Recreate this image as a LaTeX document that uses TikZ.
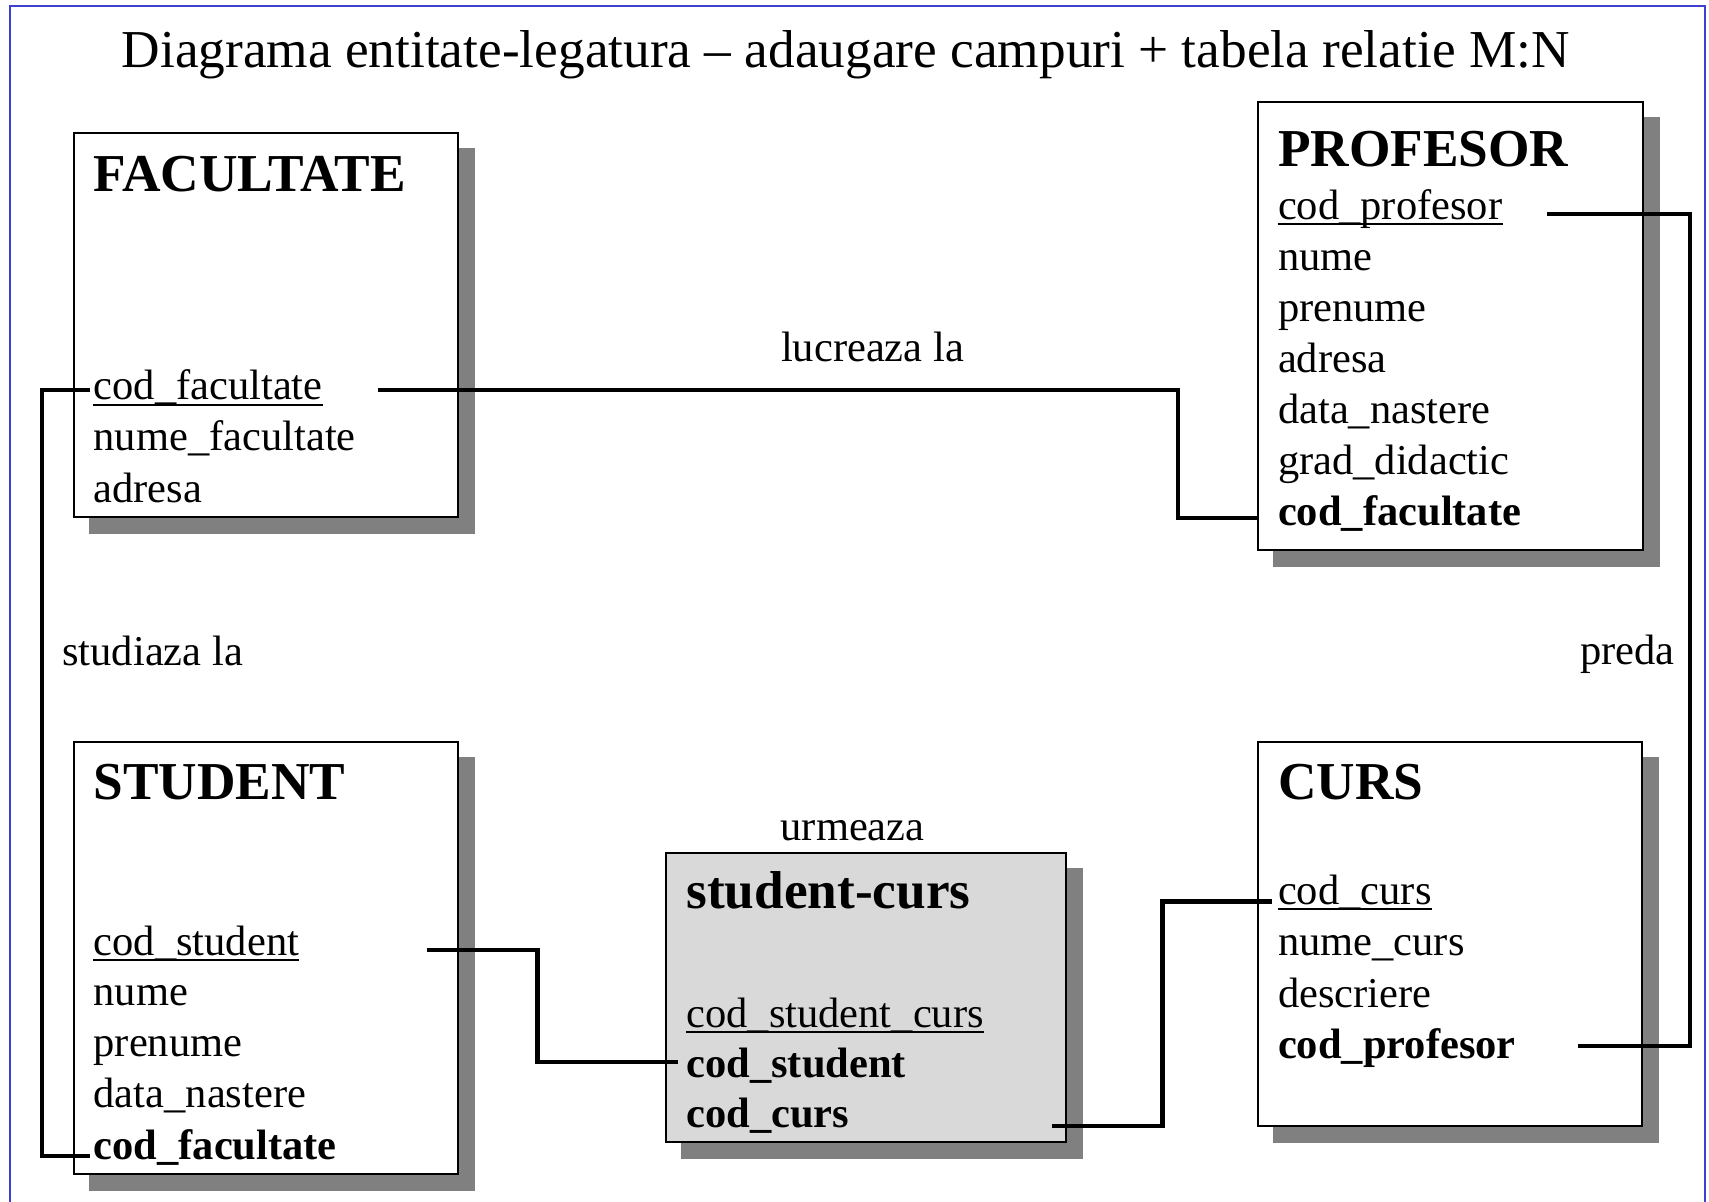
\documentclass[tikz,border=0pt]{standalone}
\usepackage{fontspec}
\setmainfont{Liberation Serif}
\definecolor{frameblue}{RGB}{64,64,208}
\definecolor{shadowgray}{RGB}{128,128,128}
\definecolor{linkfill}{RGB}{217,217,217}
\newcommand{\erbox}[6]{%
  \fill[shadowgray] (#2+15,#3+15) rectangle (#4+17,#5+17);
  \draw[boxline, fill=#6] (#2,#3) rectangle (#4,#5);
  \coordinate (#1) at (#2,#3);}
\begin{document}
\begin{tikzpicture}[x=0.5pt,y=-0.5pt,
  boxline/.style={line width=1pt, draw=black},
  attr/.style={inner sep=0pt, anchor=base west, font=\fontsize{21.25}{25}\selectfont},
  keyattr/.style={inner sep=0pt, anchor=base west, font=\fontsize{21.25}{25}\selectfont\bfseries},
  etitle/.style={inner sep=0pt, anchor=base west, font=\fontsize{26.65}{32}\selectfont\bfseries},
  rlabel/.style={inner sep=0pt, font=\fontsize{21.25}{25}\selectfont},
  uline/.style={line width=1pt},
  conn/.style={line width=2.2pt}]
\useasboundingbox (0,0) rectangle (1709,1202);
\draw[frameblue, line width=1.1pt] (9.6,6) rectangle (1705,1215);
% title
\node[inner sep=0pt, anchor=base, font=\fontsize{26.65}{32}\selectfont] (title) at (845.6,68)
  {Diagrama entitate-legatura – adaugare campuri + tabela relatie M:N};
% boxes
\erbox{facbox}{74}{133.3}{458}{517.3}{white}
\erbox{profbox}{1257.7}{101.7}{1642.5}{550}{white}
\erbox{studbox}{74}{742.2}{457.7}{1174}{white}
\erbox{cursbox}{1257.7}{742.2}{1642.3}{1125.7}{white}
\erbox{scbox}{665.8}{853.3}{1066}{1141.7}{linkfill}
% FACULTATE
\node[etitle] (ft) at (93.3,192) {FACULTATE};
\node[attr] (f1) at (93.3,400) {cod\_facultate};
\node[attr] (f2) at (93.3,451) {nume\_facultate};
\node[attr] (f3) at (93.3,502.5) {adresa};
% PROFESOR
\node[etitle] (pt) at (1277.7,166.5) {PROFESOR};
\node[attr] (p1) at (1277.7,219.5) {cod\_profesor};
\node[attr] (p2) at (1277.7,270.5) {nume};
\node[attr] (p3) at (1277.7,321.6) {prenume};
\node[attr] (p4) at (1277.7,372.7) {adresa};
\node[attr] (p5) at (1277.7,423.8) {data\_nastere};
\node[attr] (p6) at (1277.7,474.9) {grad\_didactic};
\node[keyattr] (p7) at (1277.7,526) {cod\_facultate};
% STUDENT
\node[etitle] (st) at (93.3,799.3) {STUDENT};
\node[attr] (s1) at (93.3,955.7) {cod\_student};
\node[attr] (s2) at (93.3,1005.9) {nume};
\node[attr] (s3) at (93.3,1056.8) {prenume};
\node[attr] (s4) at (93.3,1107.8) {data\_nastere};
\node[keyattr] (s5) at (93.3,1159.3) {cod\_facultate};
% CURS
\node[etitle] (ct) at (1277.7,800) {CURS};
\node[attr] (c1) at (1277.7,904.4) {cod\_curs};
\node[attr] (c2) at (1277.7,955.7) {nume\_curs};
\node[attr] (c3) at (1277.7,1007.3) {descriere};
\node[keyattr] (c4) at (1277.7,1058.6) {cod\_profesor};
% student-curs
\node[etitle] (sct) at (686,908.8) {student-curs};
\node[attr] (sc1) at (686,1027.7) {cod\_student\_curs};
\node[keyattr] (sc2) at (686,1077.7) {cod\_student};
\node[keyattr] (sc3) at (686,1127.7) {cod\_curs};
% underlines
\foreach \n in {f1,p1,s1,c1,sc1}
  \draw[uline] ([yshift=-2.3pt]\n.base west) -- ([yshift=-2.3pt]\n.base east);
% relation labels
\node[rlabel, anchor=base] (lucr) at (872.5,362) {lucreaza la};
\node[rlabel, anchor=base west] (stud) at (62,665.4) {studiaza la};
\node[rlabel, anchor=base east] (pred) at (1675,664.3) {preda};
\node[rlabel, anchor=base] (urm) at (852.6,841) {urmeaza};
% connector points
\coordinate (k1) at (41.7,1156);
\coordinate (k2a) at (378,390);
\coordinate (k2b) at (1177.7,518);
\coordinate (k2c) at (1258,518);
\coordinate (k3a) at (1547,214);
\coordinate (k3b) at (1690,1046);
\coordinate (k3c) at (1578,1046);
\coordinate (k4a) at (426.7,950);
\coordinate (k4b) at (537.3,1061.7);
\coordinate (k5a) at (1051.6,1126);
\coordinate (k5b) at (1162.3,901.7);
% connectors
\draw[conn] ([xshift=-1.5pt,yshift=5pt]f1.base west) -| (k1) -- ([xshift=-1.5pt,yshift=1.65pt]s5.base west);
\draw[conn] (k2a) -| (k2b) -- (k2c);
\draw[conn] (k3a) -| (k3b) -- (k3c);
\draw[conn] (k4a) -| (k4b) -- ([xshift=-4pt,yshift=8pt]sc2.base west);
\draw[conn] (k5a) -| (k5b) -- ([xshift=-3pt,yshift=1.35pt]c1.base west);
\end{tikzpicture}
\end{document}
